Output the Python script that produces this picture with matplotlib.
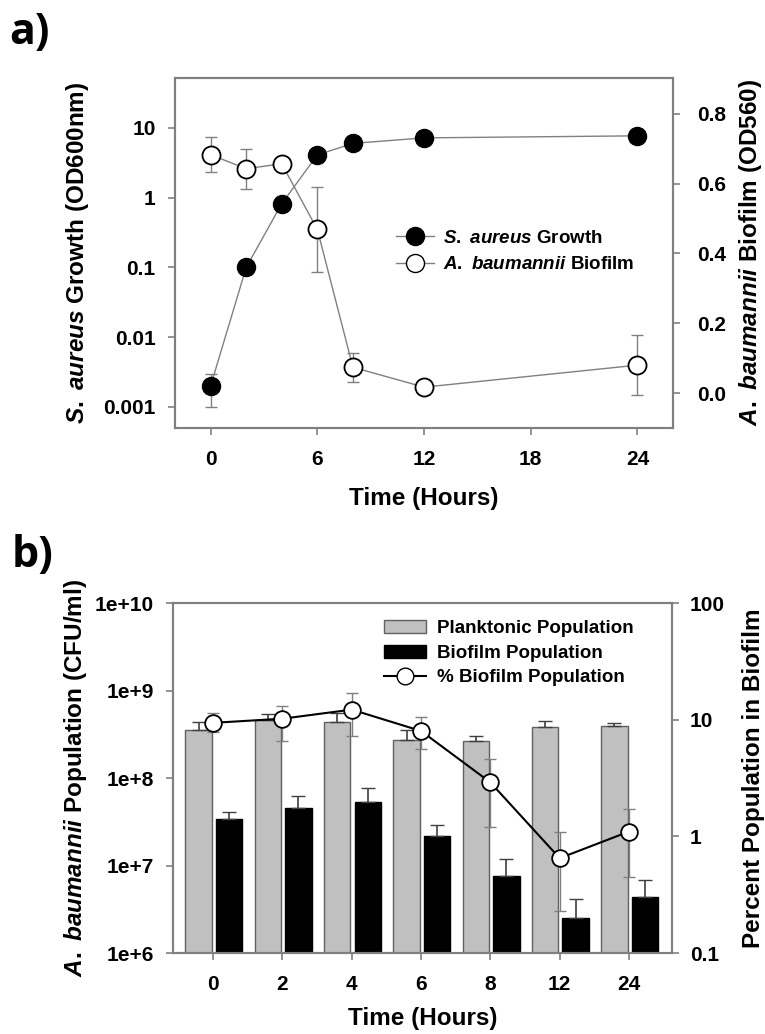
import numpy as np
import matplotlib
matplotlib.use('Agg')
import matplotlib.pyplot as plt
from matplotlib.patches import Patch
from matplotlib.lines import Line2D

plt.rcParams['font.family'] = 'Liberation Sans'
plt.rcParams['font.weight'] = 'bold'
plt.rcParams['axes.labelweight'] = 'bold'
plt.rcParams['mathtext.fontset'] = 'custom'
plt.rcParams['mathtext.it'] = 'Liberation Sans:bold:italic'
plt.rcParams['mathtext.rm'] = 'Liberation Sans:bold'

# %%
# Panel a data
t_a = [0, 2, 4, 6, 8, 12, 24]
sa_growth = [0.002, 0.1, 0.82, 4.1, 6.0, 7.2, 7.7]
sa_lo = [0.001, None, None, None, None, None, None]
sa_hi = [0.003, None, None, None, None, None, None]
ab_biofilm = [0.683, 0.643, 0.657, 0.469, 0.074, 0.017, 0.080]
ab_err = [0.05, 0.057, 0.012, 0.122, 0.042, 0.0, 0.086]

# Panel b data
t_b = ['0', '2', '4', '6', '8', '12', '24']
plank = [3.5e8, 4.6e8, 4.4e8, 2.7e8, 2.65e8, 3.8e8, 3.9e8]
plank_err = [0.9e8, 0.8e8, 1.1e8, 0.8e8, 0.35e8, 0.7e8, 0.3e8]
biofilm = [3.4e7, 4.5e7, 5.3e7, 2.2e7, 7.6e6, 2.5e6, 4.4e6]
biofilm_err = [0.7e7, 1.7e7, 2.4e7, 0.7e7, 4.4e6, 1.6e6, 2.4e6]
pct = [9.4, 10.2, 12.2, 8.0, 2.9, 0.65, 1.1]
pct_lo = [7.8, 6.6, 7.2, 5.6, 1.2, 0.23, 0.45]
pct_hi = [11.5, 13.2, 17.0, 10.6, 4.6, 1.08, 1.73]

gray = '#808080'
fs_tick = 15
fs_lab = 17.5

def style_axes(ax, lpad, rpad):
    for s in ax.spines.values():
        s.set_color(gray)
        s.set_linewidth(1.5)
    ax.tick_params(colors='black', labelsize=fs_tick, width=1.2, length=5)
    ax.tick_params(axis='both', which='both', color=gray)
    ax.tick_params(axis='x', pad=11)
    ax.tick_params(axis='y', pad=lpad if ax.yaxis.get_ticks_position() != 'right' else rpad)
    ax.tick_params(which='minor', length=0)

fig = plt.figure(figsize=(7.65, 10.34), dpi=100)

# %%
# a) growth vs biofilm
ax1 = fig.add_axes([0.2288, 0.5861, 0.651, 0.3385])
ax2 = ax1.twinx()
ax1.set_zorder(2)
ax1.patch.set_visible(False)

# biofilm on right axis
ax2.errorbar(t_a, ab_biofilm, yerr=ab_err, color=gray, lw=1, capsize=4,
             ecolor=gray, elinewidth=1, zorder=1)
ax2.plot(t_a, ab_biofilm, 'o', ms=13, mfc='white', mec='black', mew=1.3, zorder=3)
ax2.set_ylim(-0.1, 0.903)
ax2.set_yticks([0.0, 0.2, 0.4, 0.6, 0.8])
ax2.set_yticklabels(['0.0', '0.2', '0.4', '0.6', '0.8'])

# growth on left axis
lo = [g - l if l is not None else 0 for g, l in zip(sa_growth, sa_lo)]
hi = [h - g if h is not None else 0 for g, h in zip(sa_growth, sa_hi)]
ax1.errorbar(t_a, sa_growth, yerr=[lo, hi], color=gray, lw=1, capsize=4,
             ecolor=gray, elinewidth=1, zorder=1)
ax1.plot(t_a, sa_growth, 'o', ms=13, mfc='black', mec='black', zorder=3)
ax1.set_yscale('log')
ax1.set_ylim(0.0005, 52)
ax1.set_yticks([0.001, 0.01, 0.1, 1, 10])
ax1.set_yticklabels(['0.001', '0.01', '0.1', '1', '10'])
ax1.set_xlim(-2, 26)
ax1.set_xticks([0, 6, 12, 18, 24])
style_axes(ax1, 9, 12)
style_axes(ax2, 9, 12)

ax1.set_xlabel('Time (Hours)', fontsize=fs_lab, labelpad=12.5)
ax1.set_ylabel(r'$\mathit{S.\ aureus}$ Growth (OD600nm)', fontsize=fs_lab, labelpad=8.5)
ax2.set_ylabel(r'$\mathit{A.\ baumannii}$ Biofilm (OD560)', fontsize=fs_lab, labelpad=8.5)

h_a = [Line2D([], [], color=gray, lw=1, marker='o', ms=13, mfc='black', mec='black'),
       Line2D([], [], color=gray, lw=1, marker='o', ms=13, mfc='white', mec='black')]
ax1.legend(h_a, [r'$\mathit{S.\ aureus}$ Growth', r'$\mathit{A.\ baumannii}$ Biofilm'],
           loc='upper left', bbox_to_anchor=(0.41, 0.615), frameon=False,
           fontsize=13.5, handlelength=2.0, handletextpad=0.5, labelspacing=0.5)

fig.text(0.012, 0.957, 'a)', fontsize=31, fontweight='bold', family='Open Sans')

# %%
# b) populations
bx1 = fig.add_axes([0.2261, 0.0783, 0.6523, 0.3385])
bx2 = bx1.twinx()
x = np.arange(len(t_b))
w = 0.38
bx1.bar(x - 0.21, plank, w, color='#c0c0c0', edgecolor='#606060', lw=1,
        yerr=[np.zeros(len(plank)), plank_err], error_kw=dict(ecolor='#404040', capsize=5, elinewidth=1.2))
bx1.bar(x + 0.23, biofilm, w, color='black', edgecolor='black', lw=1,
        yerr=[np.zeros(len(biofilm)), biofilm_err], error_kw=dict(ecolor='#404040', capsize=5, elinewidth=1.2))
bx1.set_yscale('log')
bx1.set_ylim(1e6, 1e10)
bx1.set_yticks([1e6, 1e7, 1e8, 1e9, 1e10])
bx1.set_yticklabels(['1e+6', '1e+7', '1e+8', '1e+9', '1e+10'])
bx1.set_xlim(-0.58, 6.62)
bx1.set_xticks(x)
bx1.set_xticklabels(t_b)

p_lo = [p - l for p, l in zip(pct, pct_lo)]
p_hi = [h - p for p, h in zip(pct, pct_hi)]
bx2.errorbar(x, pct, yerr=[p_lo, p_hi], fmt='none', ecolor=gray, elinewidth=1, capsize=4)
bx2.plot(x, pct, '-o', color='black', lw=1.5, ms=12, mfc='white', mec='black', mew=1.3)
bx2.set_yscale('log')
bx2.set_ylim(0.1, 100)
bx2.set_yticks([0.1, 1, 10, 100])
bx2.set_yticklabels(['0.1', '1', '10', '100'])
style_axes(bx1, 9, 8)
style_axes(bx2, 9, 8)

bx1.set_xlabel('Time (Hours)', fontsize=fs_lab, labelpad=9)
bx1.set_ylabel(r'$\mathit{A.\ baumannii}$ Population (CFU/ml)', fontsize=fs_lab, labelpad=4)
bx2.set_ylabel('Percent Population in Biofilm', fontsize=fs_lab, labelpad=12)

h_b = [Patch(facecolor='#c0c0c0', edgecolor='#606060'),
       Patch(facecolor='black', edgecolor='black'),
       Line2D([], [], color='black', lw=1.5, marker='o', ms=12, mfc='white', mec='black')]
bx2.legend(h_b, ['Planktonic Population', 'Biofilm Population', '% Biofilm Population'],
           loc='upper left', bbox_to_anchor=(0.39, 1.0), frameon=False,
           fontsize=13.5, handlelength=2.2, handletextpad=0.6, labelspacing=0.4)

fig.text(0.015, 0.452, 'b)', fontsize=31, fontweight='bold', family='Open Sans')

plt.savefig('out.png', dpi=100)
